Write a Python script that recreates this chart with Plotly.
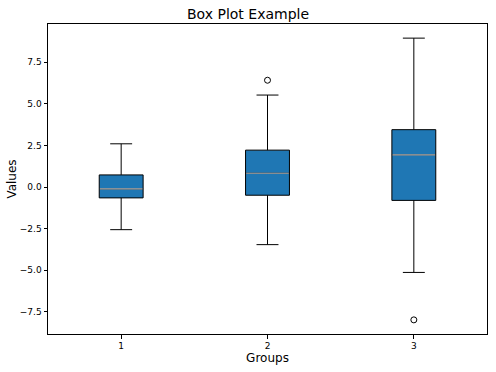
import plotly.graph_objects as go

groups = [1, 2, 3]
q1 = [-0.65, -0.49, -0.80]
median = [-0.11, 0.83, 1.94]
q3 = [0.73, 2.22, 3.45]
lower_fence = [-2.56, -3.46, -5.13]
upper_fence = [2.60, 5.53, 8.95]
outlier_x = [2, 3]
outlier_y = [6.42, -7.98]

box_width = 0.3
half = box_width / 2

fig = go.Figure()
fig.add_trace(go.Box(
    x=groups, q1=q1, median=median, q3=q3,
    lowerfence=lower_fence, upperfence=upper_fence,
    width=box_width, whiskerwidth=0.5,
    fillcolor="#1f77b4", line=dict(color="#000000", width=1),
    boxpoints=False, showlegend=False, hoverinfo="skip",
))

mx, my = [], []
for g, m in zip(groups, median):
    mx += [g - half + 0.004, g + half - 0.004, None]
    my += [m, m, None]
fig.add_trace(go.Scatter(
    x=mx, y=my, mode="lines",
    line=dict(color="#b4b4b4", width=1.2),
    showlegend=False, hoverinfo="skip",
))

fig.add_trace(go.Scatter(
    x=outlier_x, y=outlier_y, mode="markers",
    marker=dict(symbol="circle-open", size=6, color="#000000", line=dict(width=1)),
    showlegend=False, hoverinfo="skip",
))

font = "DejaVu Sans"
fig.update_layout(
    width=496, height=372,
    margin=dict(l=48, r=9, t=24, b=38, autoexpand=False),
    paper_bgcolor="white", plot_bgcolor="white",
    font=dict(family=font, color="#000000"),
    title=dict(text="Box Plot Example", x=0.5, xanchor="center",
               y=1 - 14 / 372, yref="container", yanchor="middle",
               automargin=False,
               font=dict(size=14, family=font, color="#000000")),
)
fig.update_xaxes(
    range=[0.5, 3.5], tickvals=groups, ticktext=[str(g) for g in groups],
    showgrid=False, zeroline=False, showline=True, mirror=True,
    linecolor="#000000", linewidth=1, automargin=False,
    ticks="outside", ticklen=3.5, tickwidth=0.8, tickcolor="#000000",
    tickfont=dict(size=9, family=font),
    title=dict(text="Groups", font=dict(size=12, family=font), standoff=3),
)
fig.update_yaxes(
    range=[-8.83, 9.80], tickvals=[-7.5, -5.0, -2.5, 0.0, 2.5, 5.0, 7.5],
    tickformat=".1f",
    showgrid=False, zeroline=False, showline=True, mirror=True,
    linecolor="#000000", linewidth=1, automargin=False,
    ticks="outside", ticklen=3.5, tickwidth=0.8, tickcolor="#000000",
    tickfont=dict(size=9, family=font),
    title=dict(text="Values", font=dict(size=12, family=font), standoff=0),
)

fig.write_html("out.html", config={"displayModeBar": False},
               post_script="document.body.style.margin='0';")
